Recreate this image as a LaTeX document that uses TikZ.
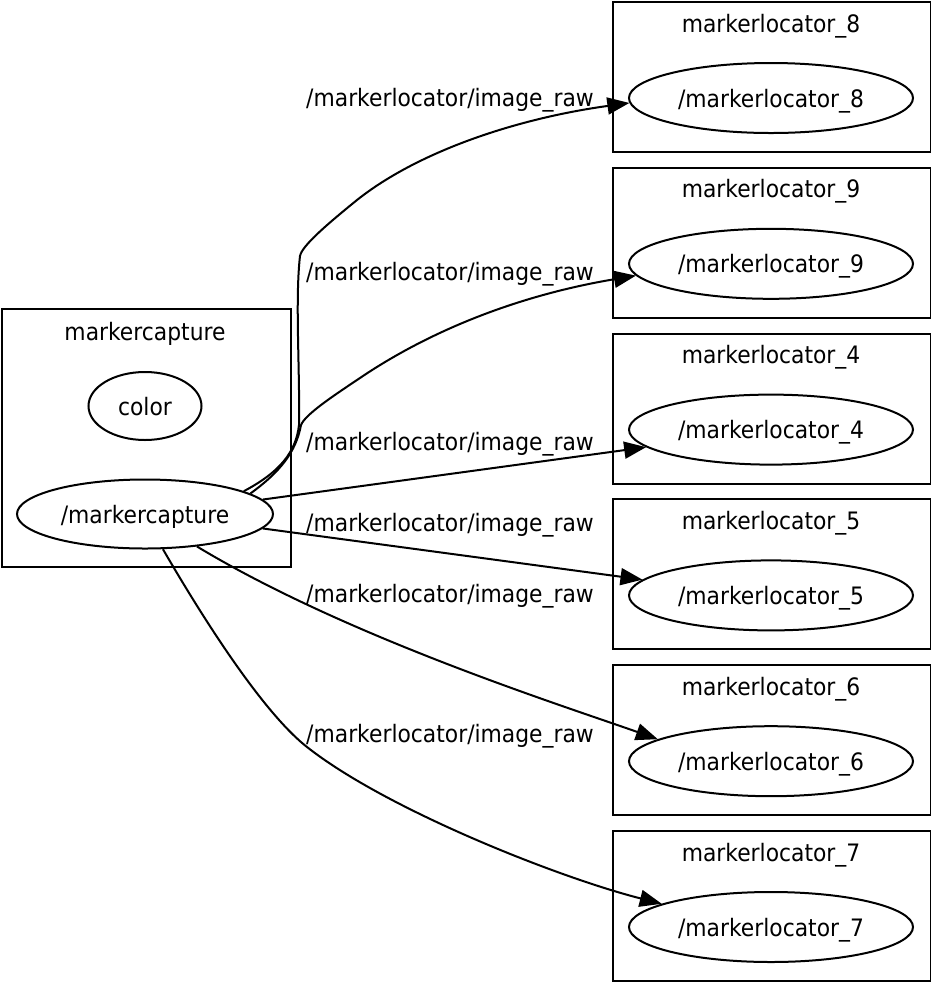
\documentclass[tikz,border=0pt]{standalone}
\usepackage{fontspec}
\setmainfont{DejaVu Sans}[FakeStretch=0.91]
\usetikzlibrary{positioning,shapes.geometric,arrows.meta}

\begin{document}
\begin{tikzpicture}[
    x=0.5pt, y=-0.5pt,
    font=\fontsize{12}{14}\selectfont,
    cluster/.style={draw, line width=1pt, rectangle, inner sep=0pt},
    leftbox/.style={cluster, minimum width=144.5pt, minimum height=129pt},
    rightbox/.style={cluster, minimum width=159pt, minimum height=75pt},
    topic/.style={draw, line width=1pt, ellipse, inner sep=0pt, text depth=0pt, minimum width=142pt, minimum height=35pt},
    title/.style={inner sep=0pt, text depth=0pt},
    msg/.style={inner sep=0pt, text depth=0pt},
    arrow/.style={-{Triangle[length=11pt,width=8.5pt]}, line width=1pt}
]
    \useasboundingbox (0,0) rectangle (931,982);

    % Blocks
    \node[leftbox, anchor=north west] (capbox) at (1,308) {};
    \node[title] (captitle) at (145,331) {markercapture};
    \node[topic, minimum width=56.5pt, minimum height=34pt] (col) at (145,406) {color};
    \node[topic, minimum width=128pt, minimum height=34.5pt] (ms) at (145,514) {/markercapture};

    \foreach \n/\row in {8/0,9/1,4/2,5/3,6/4,7/5}{
        \pgfmathsetmacro{\ytop}{1+165.8*\row}
        \node[rightbox, anchor=north west] (box\n) at (612,\ytop) {};
        \node[title] (title\n) at (771,\ytop+22) {markerlocator\_\n};
        \node[topic] (loc\n) at (771,\ytop+97) {/markerlocator\_\n};
    }

    % Labels
    \node[msg] (t8) at (450,97) {/markerlocator/image\_raw};
    \node[msg] (t9) at (450,271) {/markerlocator/image\_raw};
    \node[msg] (t4) at (450,441) {/markerlocator/image\_raw};
    \node[msg] (t5) at (450,522) {/markerlocator/image\_raw};
    \node[msg] (t6) at (450,593) {/markerlocator/image\_raw};
    \node[msg] (t7) at (450,733) {/markerlocator/image\_raw};

    % Arrows
    \draw[arrow] (ms.13) .. controls (280,472) and (296,452) .. (299,425)
        .. controls (300,370) and (295,300) .. (300,256)
        .. controls (302,246) and (325,226) .. (357,200)
        .. controls (420,150) and (520,118) .. (loc8.182);
    \draw[arrow] (ms.11) .. controls (280,472) and (296,452) .. (301,425)
        .. controls (305,415) and (330,398) .. (357,380)
        .. controls (430,330) and (520,295) .. (loc9.185);
    \draw[arrow] (ms.7.5) -- (loc4.188);
    \draw[arrow] (ms.-7.3) -- (loc5.173);
    \draw[arrow] (ms.-32) .. controls (347,637) and (561,705) .. (loc6.169);
    \draw[arrow] (ms.-63) .. controls (218,644) and (270,718) .. (307,747)
        .. controls (387,810) and (560,878) .. (loc7.168);
\end{tikzpicture}
\end{document}
